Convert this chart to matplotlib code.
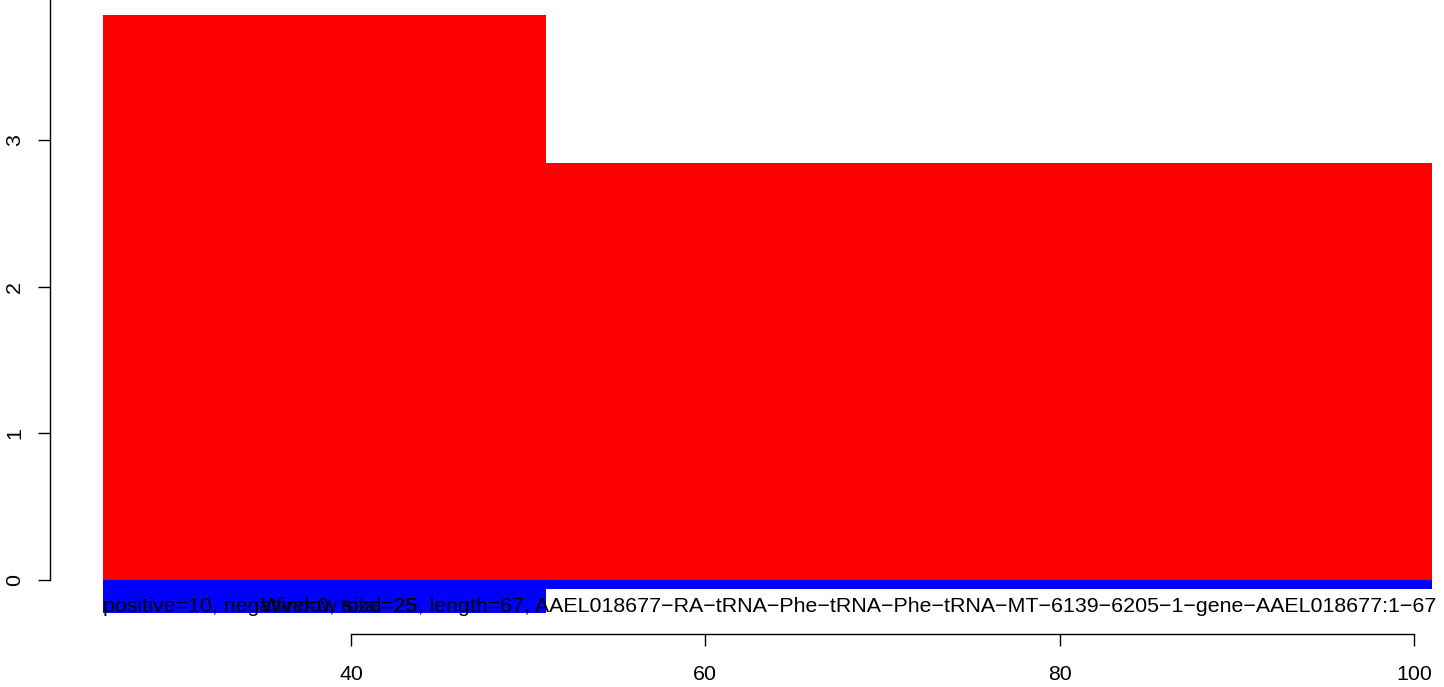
import matplotlib
matplotlib.use("Agg")
import matplotlib.pyplot as plt
from matplotlib.patches import Rectangle

# Window coverage: start/end of each window and the positive/negative depth
win_start = [26, 51]
win_end = [51, 101]
pos_depth = [3.85, 2.84]
neg_depth = [0.225, 0.06]

x_ticks = [40, 60, 80, 100]
y_ticks = [0, 1, 2, 3]

info_label = ("positive=10, negative=0, total=25, length=67, "
              "AAEL018677-RA-tRNA-Phe-tRNA-Phe-tRNA-MT-6139-6205-1-gene-AAEL018677:1-67")
window_label = "Window size=25"

plt.rcParams["font.family"] = ["Liberation Sans", "DejaVu Sans"]
plt.rcParams["axes.unicode_minus"] = True

W, H, DPI = 1444, 687, 100
fig = plt.figure(figsize=(W / DPI, H / DPI), dpi=DPI)

# axes box in pixels: left edge at the y axis line, bottom edge at the x axis line
left_px, bottom_px = 50, 634
ax = fig.add_axes([left_px / W, (H - bottom_px) / H, (W - left_px) / W, bottom_px / H])

px_per_x = (1414 - 351) / 60.0
px_per_y = (580 - 140) / 3.0
ax.set_xlim(40 - (351 - left_px) / px_per_x, 40 + (W - 351) / px_per_x)
ax.set_ylim(-(bottom_px - 580) / px_per_y, 580 / px_per_y)

for s, e, p, n in zip(win_start, win_end, pos_depth, neg_depth):
    ax.add_patch(Rectangle((s, 0), e - s, p, facecolor="#ff0000", edgecolor="none"))
    ax.add_patch(Rectangle((s, 0), e - s, -n, facecolor="#0000ff", edgecolor="none"))

fs = 15.4
text_base = -0.215
ax.text(win_start[0], text_base, info_label.replace("-", "\u2212"), fontsize=fs,
        ha="left", va="baseline", color="black", clip_on=False)
ax.text(34.9, text_base, window_label, fontsize=fs,
        ha="left", va="baseline", color="black", clip_on=False)

for side in ("top", "right"):
    ax.spines[side].set_visible(False)
ax.spines["left"].set_bounds(0, ax.get_ylim()[1])
ax.spines["bottom"].set_bounds(40, 100)
for side in ("left", "bottom"):
    ax.spines[side].set_linewidth(1.0)

ax.set_xticks(x_ticks)
ax.set_yticks(y_ticks)
ax.tick_params(axis="both", direction="out", length=8.6, width=1.0, labelsize=fs)
ax.tick_params(axis="x", pad=14)
ax.tick_params(axis="y", pad=10)
for lab in ax.get_yticklabels():
    lab.set_rotation(90)
    lab.set_va("center")

fig.savefig("out.png", dpi=DPI, facecolor="white")
